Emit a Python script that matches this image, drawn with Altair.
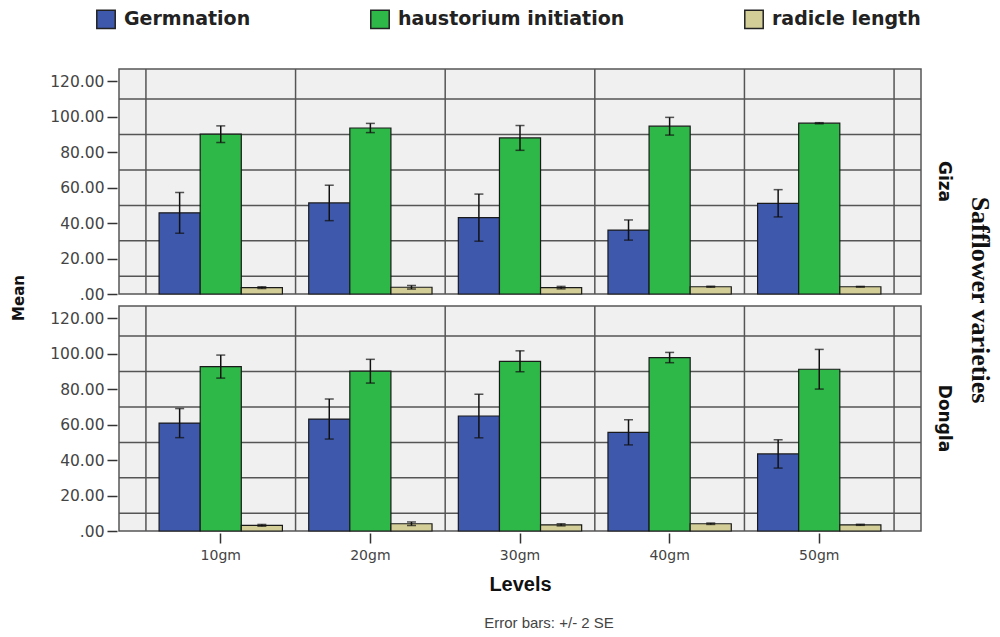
import altair as alt
import pandas as pd

# Categories
levels = ["10gm", "20gm", "30gm", "40gm", "50gm"]
series = ["Germnation", "haustorium initiation", "radicle length"]
varieties = ["Giza", "Dongla"]

# Means (percent / length) and 2*SE half-widths per variety
giza_germ = [45.8, 51.4, 43.1, 36.1, 51.2]
giza_germ_err = [11.5, 10.0, 13.3, 5.7, 7.7]
giza_haus = [90.2, 93.7, 88.1, 94.7, 96.4]
giza_haus_err = [4.7, 2.6, 7.0, 5.0, 0.3]
giza_rad = [3.6, 3.8, 3.6, 4.1, 4.1]
giza_rad_err = [0.5, 1.0, 0.7, 0.3, 0.2]

dongla_germ = [60.9, 63.2, 64.9, 55.7, 43.5]
dongla_germ_err = [8.2, 11.3, 12.3, 7.1, 8.0]
dongla_haus = [92.8, 90.2, 95.8, 97.9, 91.3]
dongla_haus_err = [6.5, 6.7, 5.9, 2.9, 11.2]
dongla_rad = [3.2, 4.1, 3.5, 4.1, 3.5]
dongla_rad_err = [0.5, 1.0, 0.6, 0.4, 0.3]

colors = ["#3E58AC", "#2EB848", "#D3CE97"]

rows = []
blocks = {
    "Giza": [(giza_germ, giza_germ_err), (giza_haus, giza_haus_err), (giza_rad, giza_rad_err)],
    "Dongla": [(dongla_germ, dongla_germ_err), (dongla_haus, dongla_haus_err), (dongla_rad, dongla_rad_err)],
}
for variety, vals in blocks.items():
    for s, (means, errs) in zip(series, vals):
        for lv, m, e in zip(levels, means, errs):
            rows.append({"variety": variety, "level": lv, "series": s,
                         "mean": m, "lo": m - e, "hi": m + e})
df = pd.DataFrame(rows)

GRID = "#555555"
LABEL_FONT = "DejaVu Sans"
TITLE_FONT = "Liberation Sans"
PANEL_W, PANEL_H, GAP = 802, 225, 8

x_scale = alt.Scale(domain=levels, paddingInner=0, paddingOuter=0.18)
x_axis = alt.Axis(labelFont=LABEL_FONT, labelFontSize=14, labelColor="#444444",
                  labelAngle=0, labelPadding=5, tickSize=10, tickWidth=1.5,
                  tickColor="#333333", domain=False, grid=False,
                  titleFont=TITLE_FONT, titleFontSize=20,
                  titleFontWeight="bold", titleColor="#111111", titlePadding=12)
y_axis = alt.Axis(values=list(range(0, 121, 20)),
                  labelExpr="datum.value == 0 ? '.00' : format(datum.value, '.2f')",
                  labelOverlap=False,
                  labelFont=LABEL_FONT, labelFontSize=15.5, labelColor="#444444",
                  labelPadding=3, tickSize=10, tickWidth=1.5, tickColor="#333333",
                  grid=False, domain=False)
xoff = alt.XOffset("series:N", sort=series,
                   scale=alt.Scale(domain=series, paddingInner=0, paddingOuter=0.32))
y_scale = alt.Scale(domain=[0, 127], nice=False, zero=True)

base = alt.Chart()

# horizontal guide lines half-way between the labelled ticks (10, 30, ..., 110)
hgrid = base.mark_rule(color=GRID, strokeWidth=1.5).transform_window(
    idx="row_number()", groupby=["variety"]
).transform_filter("datum.idx <= 6").transform_calculate(
    gy="datum.idx * 20 - 10"
).encode(
    y=alt.Y("gy:Q", scale=y_scale, title=None, axis=y_axis)
)

bars = base.mark_bar(stroke="#1a1a1a", strokeWidth=1.2).encode(
    x=alt.X("level:N", scale=x_scale, title="Levels", axis=x_axis),
    xOffset=xoff,
    y=alt.Y("mean:Q", scale=y_scale, title=None, axis=y_axis),
    color=alt.Color("series:N", scale=alt.Scale(domain=series, range=colors),
                    legend=alt.Legend(title=None, orient="none", direction="horizontal",
                                      legendX=87, legendY=-60,
                                      symbolType="square", symbolSize=340,
                                      symbolStrokeColor="#222222", symbolStrokeWidth=1.5,
                                      symbolOpacity=1, labelLimit=0,
                                      labelFont=LABEL_FONT, labelFontSize=19,
                                      labelFontWeight="bold", labelColor="#222222",
                                      labelOffset=8, columnPadding=116)),
)

err = base.mark_rule(color="#111111", strokeWidth=1.5).encode(
    x=alt.X("level:N", scale=x_scale, title="Levels", axis=x_axis), xOffset=xoff,
    y=alt.Y("lo:Q", scale=y_scale, title=None, axis=y_axis), y2="hi:Q",
)
cap_lo = base.mark_tick(color="#111111", thickness=1.5, size=9).encode(
    x=alt.X("level:N", scale=x_scale, title="Levels", axis=x_axis), xOffset=xoff,
    y=alt.Y("lo:Q", scale=y_scale, title=None, axis=y_axis),
)
cap_hi = base.mark_tick(color="#111111", thickness=1.5, size=9).encode(
    x=alt.X("level:N", scale=x_scale, title="Levels", axis=x_axis), xOffset=xoff,
    y=alt.Y("hi:Q", scale=y_scale, title=None, axis=y_axis),
)

# vertical separators at the band boundaries
vlines = base.mark_rule(color=GRID, strokeWidth=1.5).encode(
    x=alt.X("level:N", scale=x_scale, bandPosition=0, title="Levels", axis=x_axis)
).transform_filter(alt.datum.series == "Germnation")
vend = base.mark_rule(color=GRID, strokeWidth=1.5).encode(
    x=alt.X("level:N", scale=x_scale, bandPosition=1, title="Levels", axis=x_axis)
).transform_filter((alt.datum.series == "Germnation") & (alt.datum.level == "50gm"))

panel = alt.layer(hgrid, bars, err, cap_lo, cap_hi, vlines, vend, data=df).properties(
    width=PANEL_W, height=PANEL_H
)

grid_chart = panel.facet(
    row=alt.Row("variety:N", sort=varieties, title="Safflower varieties",
                header=alt.Header(labelOrient="right", labelAngle=90,
                                  labelFont=LABEL_FONT, labelFontSize=17,
                                  labelFontWeight="bold", labelColor="#111111",
                                  labelPadding=12,
                                  titleOrient="right", titleAngle=90,
                                  titleFont="Liberation Serif", titleFontSize=26,
                                  titleFontWeight="bold", titleColor="#111111",
                                  titlePadding=4)),
    spacing=GAP,
)

# shared y-axis title for both rows
mean_title = alt.Chart(pd.DataFrame({"t": ["Mean"]})).mark_text(
    angle=270, font=LABEL_FONT, fontSize=15, fontWeight="bold", color="#111111"
).encode(
    text="t:N", x=alt.value(10), y=alt.value((2 * PANEL_H + GAP) / 2)
).properties(
    width=20, height=2 * PANEL_H + GAP,
    view=alt.ViewBackground(fillOpacity=0, strokeOpacity=0),
)

chart = alt.hconcat(mean_title, grid_chart, spacing=20).properties(
    title=alt.TitleParams("Error bars: +/- 2 SE", orient="bottom", anchor="middle",
                          font="Liberation Sans", fontSize=15, fontWeight="normal",
                          color="#444444", offset=22, dx=48),
    padding={"left": 9, "top": 9, "right": 0, "bottom": 0},
    background="white",
).configure_view(
    fill="#F0F0F0", stroke=GRID, strokeWidth=1.5
)

chart.save("out.html", embed_options={"renderer": "svg", "actions": False})
